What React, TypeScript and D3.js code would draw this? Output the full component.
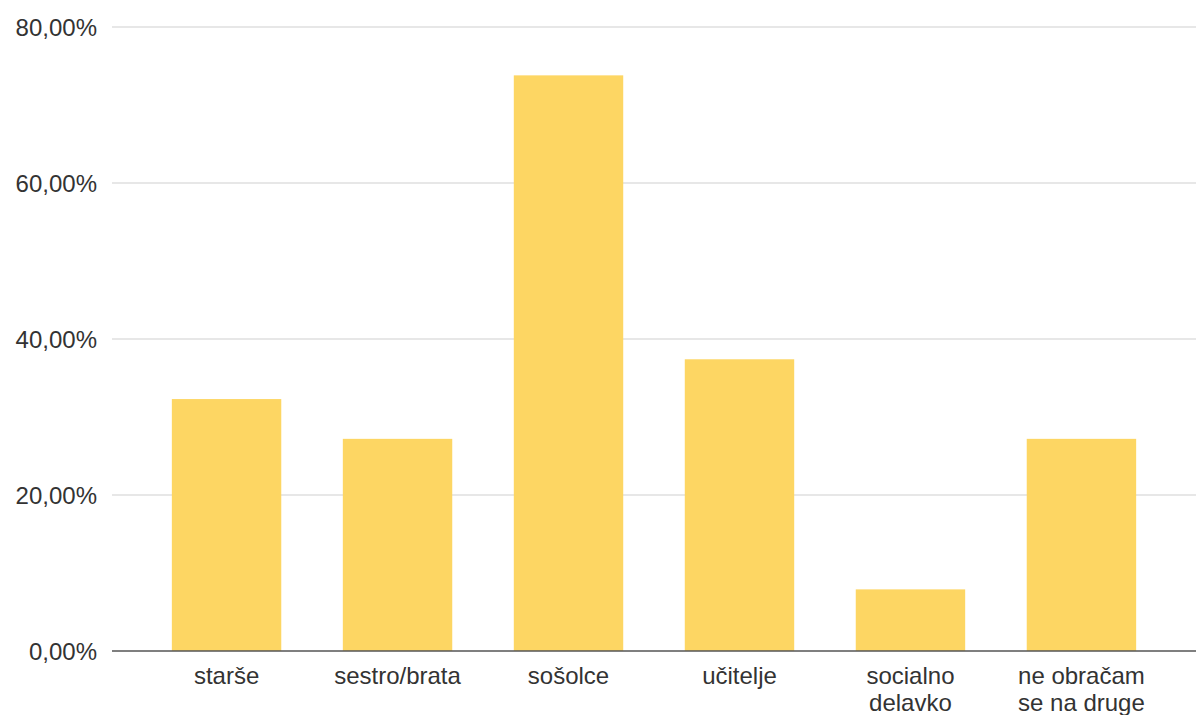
import React from "react";
import * as d3 from "d3";

const categories: string[][] = [
  ["starše"],
  ["sestro/brata"],
  ["sošolce"],
  ["učitelje"],
  ["socialno", "delavko"],
  ["ne obračam", "se na druge"],
];
const values: number[] = [0.323, 0.272, 0.738, 0.374, 0.079, 0.272];
const yTicks: number[] = [0, 0.2, 0.4, 0.6, 0.8];

const W = 1196;
const H = 715;
const FONT = "'Liberation Sans', Arial, Helvetica, sans-serif";

export default function App() {
  const keys = categories.map((c) => c.join(" "));
  const x = d3
    .scaleBand<string>()
    .domain(keys)
    .range([112, 1196])
    .paddingInner(0.36)
    .paddingOuter(0.35);
  const y = d3.scaleLinear().domain([0, 0.8]).range([651, 27]);
  const fmt = (v: number) => (v * 100).toFixed(2).replace(".", ",") + "%";

  return (
    <svg
      width={W}
      height={H}
      style={{ position: "absolute", left: 0, top: 0, background: "#fff" }}
      fontFamily={FONT}
    >
      {yTicks.map((t) => (
        <g key={t}>
          {t > 0 && (
            <line x1={112} x2={W} y1={y(t)} y2={y(t)} stroke="#cfcfcf" strokeWidth={1.2} />
          )}
          <text
            x={97}
            y={y(t) + 9}
            textAnchor="end"
            fontSize={24}
            fill="#333"
          >
            {fmt(t)}
          </text>
        </g>
      ))}
      {values.map((v, i) => (
        <rect
          key={keys[i]}
          x={x(keys[i])}
          y={y(v)}
          width={x.bandwidth()}
          height={y(0) - y(v)}
          fill="#FDD663"
        />
      ))}
      <line x1={112} x2={W} y1={y(0)} y2={y(0)} stroke="#555" strokeWidth={1.6} />
      {categories.map((lines, i) => (
        <text
          key={keys[i]}
          x={(x(keys[i]) as number) + x.bandwidth() / 2}
          y={684}
          textAnchor="middle"
          fontSize={24}
          fill="#333"
        >
          {lines.map((l, j) => (
            <tspan key={j} x={(x(keys[i]) as number) + x.bandwidth() / 2} dy={j === 0 ? 0 : 27}>
              {l}
            </tspan>
          ))}
        </text>
      ))}
    </svg>
  );
}
